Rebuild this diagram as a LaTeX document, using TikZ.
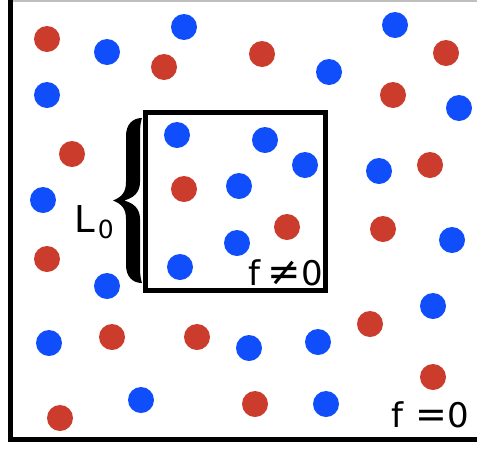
\documentclass[tikz,border=0pt]{standalone}
\usepackage{fontspec}
\setmainfont{DejaVu Sans}
\usepackage{xcolor}

\definecolor{dotred}{RGB}{203,60,45}
\definecolor{dotblue}{RGB}{15,78,250}

\begin{document}
\begin{tikzpicture}[
  x=1pt, y=-1pt,
  reddot/.style={circle, fill=dotred, minimum size=26pt, inner sep=0pt},
  bluedot/.style={circle, fill=dotblue, minimum size=26pt, inner sep=0pt},
  frame/.style={line width=5pt, line join=miter},
  tag/.style={inner sep=0pt, font=\fontsize{34}{34}\selectfont}
]
\useasboundingbox (0,0) rectangle (477,448);

% outer region
\draw[black!25, line width=1.5pt] (10,0.75) -- (477,0.75);
\draw[frame] (10.5,0) -- (10.5,439.5) -- (477,439.5);

% particles
\foreach \px/\py [count=\i] in {47/39, 164/67, 262/54, 446/53, 393/95, 72/154,
    184/189, 430/165, 287/227, 383/229, 47/259, 112/337, 197/337, 370/324,
    433/377, 60/418, 255/404}
  \node[reddot] (r\i) at (\px,\py) {};
\foreach \px/\py [count=\i] in {107/52, 184/27, 329/72, 395/25, 47/95, 459/108,
    177/135, 265/140, 305/165, 379/171, 239/186, 43/200, 237/243, 180/267,
    452/240, 107/286, 49/343, 249/348, 318/342, 433/306, 141/400, 326/404}
  \node[bluedot] (b\i) at (\px,\py) {};

% inner box
\node[draw, line width=5pt, minimum width=180pt, minimum height=178pt,
  inner sep=0pt] (box) at (235,201) {};

% brace
\fill (142,118) .. controls (133,118) and (126,124) .. (126,136) -- (126,182)
  .. controls (126,192) and (122,197) .. (113,200.5)
  .. controls (122,204) and (126,209) .. (126,219) -- (126,265)
  .. controls (126,277) and (133,283) .. (142,283)
  .. controls (141,280) and (140,276) .. (140,267) -- (140,219)
  .. controls (140,208) and (133,203) .. (124,200.5)
  .. controls (133,198) and (140,193) .. (140,182) -- (140,134)
  .. controls (140,125) and (141,121) .. (142,118) -- cycle;

\node[tag, font=\fontsize{37}{37}\selectfont, anchor=base west] (len) at (74,232)
  {L\hspace{3pt}\raisebox{-6pt}{\fontsize{25}{25}\selectfont 0}};

\node[tag, anchor=base east] (inside) at (323,285)
  {f\hspace{7pt}{\fontsize{40}{40}\selectfont ≠}0};
\node[tag, anchor=base east] (outside) at (469,427)
  {f\hspace{12pt}{\fontsize{38}{38}\selectfont =}0};
\end{tikzpicture}
\end{document}
